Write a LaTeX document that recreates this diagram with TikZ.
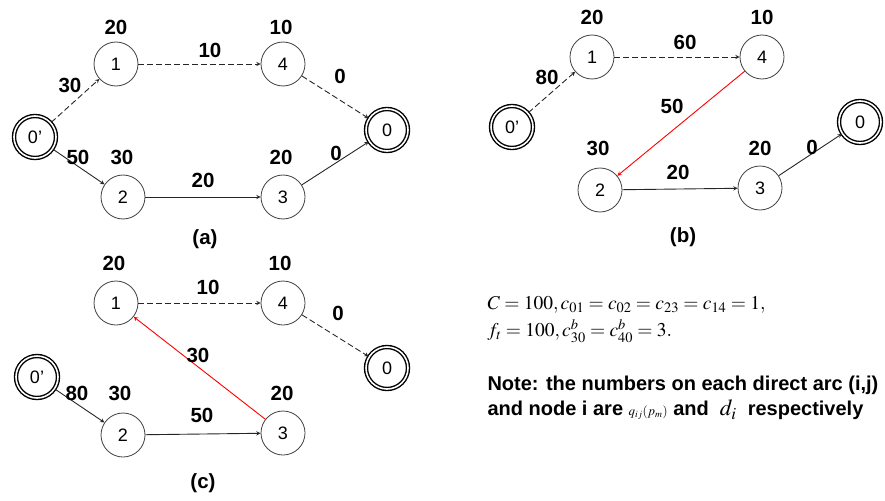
\documentclass[tikz,border=0pt]{standalone}
\usepackage{mathptmx}
\usepackage[no-math]{fontspec}
\setmainfont{Liberation Sans}
\newcommand{\numfont}{\fontsize{20.5}{24}\selectfont\bfseries}
\newcommand{\vertfont}{\fontsize{18}{21}\selectfont}
\newcommand{\notefont}{\fontsize{20}{24}\selectfont\bfseries}
\newcommand{\eqfont}{\fontsize{19.5}{23}\selectfont}
\begin{document}
\begin{tikzpicture}[x=1pt, y=-1pt, >=stealth, font=\vertfont,
		vertex/.style={circle, draw=black!75, line width=0.8pt, minimum size=44pt, inner sep=0pt},
		terminal/.style={vertex, draw=black, double=white, double distance=1.6pt, line width=1.4pt, minimum size=42pt},
		wt/.style={font=\numfont},
		flow/.style={->, line width=0.9pt, black!85},
		dflow/.style={flow, dash pattern=on 6pt off 3pt},
		rflow/.style={->, line width=0.9pt, red}]
		\useasboundingbox (0,0) rectangle (885,500);
		% (a)
		\node[terminal] (a0p) at (35,137) {0'};
		\node[vertex] (a1) at (116,64) {1};
		\node[vertex] (a4) at (283,64) {4};
		\node[terminal] (a0) at (387,130) {0};
		\node[vertex] (a2) at (123,197) {2};
		\node[vertex] (a3) at (283,197) {3};
		\draw[dflow] (a0p) -- (a1);
		\draw[dflow] (a1) -- (a4);
		\draw[dflow] (a4) -- (a0);
		\draw[flow] (a0p) -- (a2);
		\draw[flow] (a2) -- (a3);
		\draw[flow] (a3) -- (a0);
		\node[wt] at (116,27) {20};
		\node[wt] at (281,27) {10};
		\node[wt] at (210,50) {10};
		\node[wt] at (70,85) {30};
		\node[wt] at (340,76) {0};
		\node[wt] at (78,157) {50};
		\node[wt] at (122,157) {30};
		\node[wt] at (203,180) {20};
		\node[wt] at (281,157) {20};
		\node[wt] at (336,153) {0};
		\node[wt] at (205,239) {(a)};
		% (b)
		\node[terminal] (b0p) at (512,127) {0'};
		\node[vertex] (b1) at (592,57) {1};
		\node[vertex] (b4) at (762,57) {4};
		\node[terminal] (b0) at (860,122) {0};
		\node[vertex] (b2) at (600,190) {2};
		\node[vertex] (b3) at (760,188) {3};
		\draw[dflow] (b0p) -- (b1);
		\draw[dflow] (b1) -- (b4);
		\draw[rflow] (b4) -- (b2);
		\draw[flow] (b2) -- (b3);
		\draw[flow] (b3) -- (b0);
		\node[wt] at (592,17) {20};
		\node[wt] at (762,17) {10};
		\node[wt] at (685,42) {60};
		\node[wt] at (547,77) {80};
		\node[wt] at (672,106) {50};
		\node[wt] at (598,148) {30};
		\node[wt] at (678,172) {20};
		\node[wt] at (760,148) {20};
		\node[wt] at (812,147) {0};
		\node[wt] at (683,237) {(b)};
		% (c)
		\node[terminal] (c0p) at (37,377) {0'};
		\node[vertex] (c1) at (116,303) {1};
		\node[vertex] (c4) at (283,303) {4};
		\node[terminal] (c0) at (387,368) {0};
		\node[vertex] (c2) at (123,435) {2};
		\node[vertex] (c3) at (283,433) {3};
		\draw[dflow] (c1) -- (c4);
		\draw[dflow] (c4) -- (c0);
		\draw[flow] (c0p) -- (c2);
		\draw[flow] (c2) -- (c3);
		\draw[rflow] (c3) -- (c1);
		\node[wt] at (114,263) {20};
		\node[wt] at (280,263) {10};
		\node[wt] at (208,287) {10};
		\node[wt] at (338,313) {0};
		\node[wt] at (198,355) {30};
		\node[wt] at (77,393) {80};
		\node[wt] at (120,393) {30};
		\node[wt] at (202,415) {50};
		\node[wt] at (282,393) {20};
		\node[wt] at (203,483) {(c)};
		% parameters and note
		\node[anchor=west, font=\eqfont] (eq1) at (484,305)
			{$C=100, c_{01}=c_{02}=c_{23}=c_{14}=1,$};
		\node[anchor=west, font=\eqfont] (eq2) at (484,331)
			{$f_t=100, c^b_{30}=c^b_{40}=3.$};
		\node[anchor=west, font=\notefont] (note1) at (484,385)
			{Note: the numbers on each direct arc (i,j)};
		\node[anchor=west, font=\notefont] (note2) at (484,410)
			{and node i are {\fontsize{13}{15}\selectfont$q_{ij}(p_m)$} and \ {\fontsize{23}{25}\selectfont$d_i$} \ respectively};
	\end{tikzpicture}
\end{document}
